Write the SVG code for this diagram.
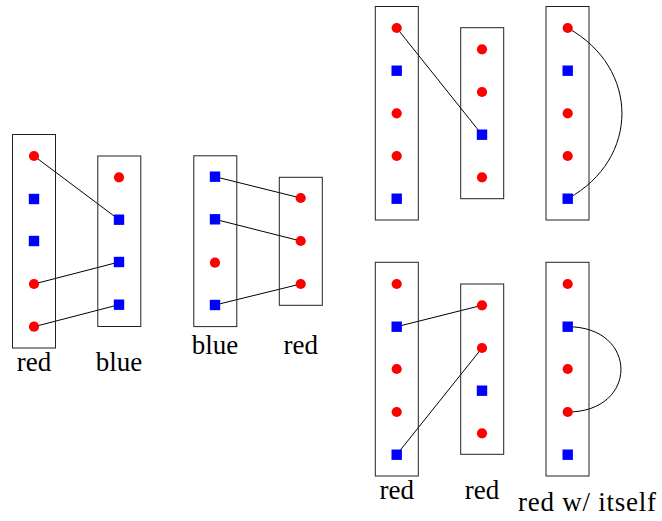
<svg xmlns="http://www.w3.org/2000/svg" xmlns:xlink="http://www.w3.org/1999/xlink" width="662" height="521" viewBox="0 0 662 521">
<style>
.box{fill:none;stroke:#222;stroke-width:1}
.edge{fill:none;stroke:#000;stroke-width:1}
.lbl{font-family:'Liberation Serif','DejaVu Serif',serif;font-size:27px;fill:#000;text-anchor:middle}
</style>
<defs>
<circle id="r" r="5.1" fill="#ff0000"/>
<rect id="b" x="-5.2" y="-5.2" width="10.4" height="10.4" fill="#0000ff"/>
</defs>
<rect width="662" height="521" fill="#fff"/>
<g id="connectors">
<line class="edge" x1="34" y1="156" x2="119" y2="219.7"/>
<line class="edge" x1="34" y1="284" x2="119" y2="262"/>
<line class="edge" x1="34" y1="326.7" x2="119" y2="304.7"/>
<line class="edge" x1="215" y1="176.7" x2="300.7" y2="198"/>
<line class="edge" x1="215" y1="219.3" x2="300.7" y2="241"/>
<line class="edge" x1="215" y1="305" x2="300.7" y2="284"/>
<line class="edge" x1="396.7" y1="28" x2="482" y2="134.7"/>
<path class="edge" d="M567.7,28 C640,68 640,159 567.7,198.7"/>
<line class="edge" x1="396.7" y1="326.7" x2="482" y2="305.3"/>
<line class="edge" x1="396.7" y1="454.7" x2="482" y2="348"/>
<path class="edge" d="M567.7,326.7 C638.7,326.7 638.7,412 567.7,412"/>
</g>
<g id="g1-red">
<rect class="box" x="12.5" y="134.5" width="43" height="213.5"/>
<use href="#r" x="34" y="156"/>
<use href="#b" x="34" y="199"/>
<use href="#b" x="34" y="241"/>
<use href="#r" x="34" y="284"/>
<use href="#r" x="34" y="326.7"/>
<text class="lbl" x="34" y="371">red</text>
</g>
<g id="g1-blue">
<rect class="box" x="97.8" y="156" width="43" height="170.5"/>
<use href="#r" x="119" y="177.3"/>
<use href="#b" x="119" y="219.7"/>
<use href="#b" x="119" y="262"/>
<use href="#b" x="119" y="304.7"/>
<text class="lbl" x="119" y="371">blue</text>
</g>
<g id="g2-blue">
<rect class="box" x="193.8" y="155.8" width="43" height="170.8"/>
<use href="#b" x="215" y="176.7"/>
<use href="#b" x="215" y="219.3"/>
<use href="#r" x="215" y="262.7"/>
<use href="#b" x="215" y="305"/>
<text class="lbl" x="215" y="354">blue</text>
</g>
<g id="g2-red">
<rect class="box" x="279.3" y="177.3" width="43" height="128"/>
<use href="#r" x="300.7" y="198"/>
<use href="#r" x="300.7" y="241"/>
<use href="#r" x="300.7" y="284"/>
<text class="lbl" x="300.7" y="354">red</text>
</g>
<g id="g3-top-left">
<rect class="box" x="375.3" y="6.5" width="43" height="213.5"/>
<use href="#r" x="396.7" y="28"/>
<use href="#b" x="396.7" y="70.7"/>
<use href="#r" x="396.7" y="113.3"/>
<use href="#r" x="396.7" y="156"/>
<use href="#b" x="396.7" y="198.7"/>
</g>
<g id="g3-top-mid">
<rect class="box" x="460.7" y="27.7" width="43" height="171"/>
<use href="#r" x="482" y="49.3"/>
<use href="#r" x="482" y="92"/>
<use href="#b" x="482" y="134.7"/>
<use href="#r" x="482" y="177.3"/>
</g>
<g id="g3-top-right">
<rect class="box" x="546" y="6.5" width="43" height="213.5"/>
<use href="#r" x="567.7" y="28"/>
<use href="#b" x="567.7" y="70.7"/>
<use href="#r" x="567.7" y="113.3"/>
<use href="#r" x="567.7" y="156"/>
<use href="#b" x="567.7" y="198.7"/>
</g>
<g id="g3-bot-left">
<rect class="box" x="375.3" y="262.3" width="43" height="213.7"/>
<use href="#r" x="396.7" y="284"/>
<use href="#b" x="396.7" y="326.7"/>
<use href="#r" x="396.7" y="369"/>
<use href="#r" x="396.7" y="412"/>
<use href="#b" x="396.7" y="454.7"/>
<text class="lbl" x="396.7" y="499">red</text>
</g>
<g id="g3-bot-mid">
<rect class="box" x="460.7" y="284" width="43" height="170.3"/>
<use href="#r" x="482" y="305.3"/>
<use href="#r" x="482" y="348"/>
<use href="#b" x="482" y="390.7"/>
<use href="#r" x="482" y="433.3"/>
<text class="lbl" x="482" y="499">red</text>
</g>
<g id="g3-bot-right">
<rect class="box" x="546" y="262.3" width="43" height="213.7"/>
<use href="#r" x="567.7" y="284"/>
<use href="#b" x="567.7" y="326.7"/>
<use href="#r" x="567.7" y="369"/>
<use href="#r" x="567.7" y="412"/>
<use href="#b" x="567.7" y="454.7"/>
<text class="lbl" x="587" y="511" textLength="138" lengthAdjust="spacing">red w/ itself</text>
</g>
</svg>
